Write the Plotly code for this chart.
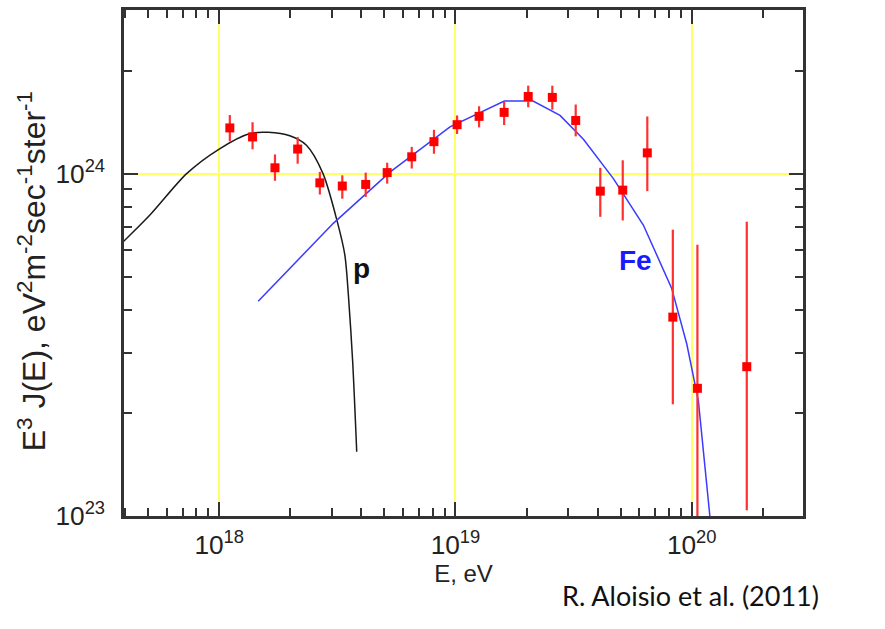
import plotly.graph_objects as go

# Measured spectrum: energy (eV), E^3 J(E) and error-bar ends (units of 1e24 eV^2 m^-2 s^-1 sr^-1)
energy = [1.109e18, 1.384e18, 1.722e18, 2.148e18, 2.667e18, 3.319e18, 4.169e18,
          5.14e18, 6.53e18, 8.11e18, 1.016e19, 1.259e19, 1.607e19, 2.032e19,
          2.570e19, 3.228e19, 4.102e19, 5.105e19, 6.486e19, 8.318e19, 1.057e20,
          1.710e20]
flux = [1.36, 1.28, 1.04, 1.18, 0.94, 0.92, 0.93, 1.007, 1.12, 1.24, 1.39,
        1.47, 1.51, 1.68, 1.67, 1.43, 0.889, 0.895, 1.15, 0.381, 0.236, 0.273]
flux_hi = [1.483, 1.413, 1.138, 1.279, 1.012, 0.989, 1.007, 1.076, 1.197,
           1.343, 1.479, 1.574, 1.622, 1.807, 1.807, 1.592, 1.040, 1.094,
           1.469, 0.686, 0.620, 0.724]
flux_lo = [1.242, 1.178, 0.953, 1.069, 0.869, 0.845, 0.855, 0.935, 1.035,
           1.143, 1.306, 1.365, 1.387, 1.563, 1.538, 1.285, 0.748, 0.730,
           0.889, 0.212, 0.080, 0.104]

# Proton component
p_energy = [3.90e17, 5.09e17, 7.28e17, 1.0e18, 1.35e18, 1.61e18, 1.99e18,
            2.34e18, 2.75e18, 3.16e18, 3.40e18, 3.52e18, 3.67e18, 3.82e18]
p_flux = [0.630, 0.757, 1.00, 1.18, 1.31, 1.32, 1.29, 1.21, 1.00, 0.724,
          0.580, 0.444, 0.284, 0.154]

# Iron component
fe_energy = [1.462e18, 3.04e18, 5.28e18, 9.48e18, 1.61e19, 2.13e19, 2.77e19,
             3.48e19, 4.66e19, 6.24e19, 8.22e19, 9.53e19, 1.067e20, 1.194e20]
fe_flux = [0.424, 0.716, 1.01, 1.37, 1.63, 1.63, 1.48, 1.26, 0.967, 0.708,
           0.463, 0.318, 0.217, 0.0995]

UNIT = 1e24
y = [v * UNIT for v in flux]
err_plus = [(h - v) * UNIT for h, v in zip(flux_hi, flux)]
err_minus = [(v - l) * UNIT for v, l in zip(flux, flux_lo)]

FONT = "Liberation Sans, Arial, sans-serif"

fig = go.Figure()

fig.add_trace(go.Scatter(
    x=p_energy, y=[v * UNIT for v in p_flux], mode="lines",
    line=dict(color="#1a1a1a", width=1.5, shape="spline", smoothing=0.8),
    hoverinfo="skip", showlegend=False))

fig.add_trace(go.Scatter(
    x=fe_energy, y=[v * UNIT for v in fe_flux], mode="lines",
    line=dict(color="#3b3bff", width=1.5),
    hoverinfo="skip", showlegend=False))

fig.add_trace(go.Scatter(
    x=energy, y=y, mode="markers",
    marker=dict(symbol="square", size=9, color="#ff0000"),
    error_y=dict(type="data", array=err_plus, arrayminus=err_minus,
                 color="#ff3030", thickness=2.2, width=0),
    showlegend=False))

axis_common = dict(
    type="log", showline=True, linewidth=2.5, linecolor="#333333",
    mirror="ticks", ticks="inside", ticklen=14, tickwidth=2,
    tickcolor="#333333", showgrid=True, gridcolor="#ffff66", gridwidth=1.5,
    zeroline=False, exponentformat="power", dtick=1,
    tickfont=dict(family=FONT, size=21, color="#222222"),
    minor=dict(ticks="inside", ticklen=8, tickwidth=2, tickcolor="#333333",
               dtick="D1", showgrid=False),
)

fig.update_xaxes(
    range=[17.597, 20.471], ticklabelstandoff=5,
    title=dict(text="E, eV", standoff=2,
               font=dict(family=FONT, size=24, color="#222222")),
    **axis_common)
fig.update_yaxes(range=[23.0, 24.478], ticklabelstandoff=12, **axis_common)

fig.add_annotation(x=18.603, y=23.722, xref="x", yref="y", text="<b>p</b>",
                   showarrow=False,
                   font=dict(family=FONT, size=28, color="#111111"))
fig.add_annotation(x=19.760, y=23.746, xref="x", yref="y", text="<b>Fe</b>",
                   showarrow=False,
                   font=dict(family=FONT, size=28, color="#1a1aff"))

fig.add_annotation(x=-0.136, y=0.483, xref="paper", yref="paper",
                   text="E<sup>3</sup> J(E), eV<sup>2</sup>m<sup>-2</sup>sec<sup>-1</sup>ster<sup>-1</sup>",
                   textangle=-90, showarrow=False,
                   xanchor="center", yanchor="middle",
                   font=dict(family=FONT, size=32, color="#222222"))
fig.add_annotation(x=0.835, y=-0.157, xref="paper", yref="paper",
                   text="R. Aloisio et al. (2011)", showarrow=False,
                   xanchor="center", yanchor="middle",
                   font=dict(family="Lato, Open Sans, sans-serif", size=27,
                             color="#111111"))

fig.update_layout(
    width=885, height=629,
    margin=dict(l=124, r=82, t=7, b=113),
    paper_bgcolor="white", plot_bgcolor="white",
)

fig.write_html("out.html")
